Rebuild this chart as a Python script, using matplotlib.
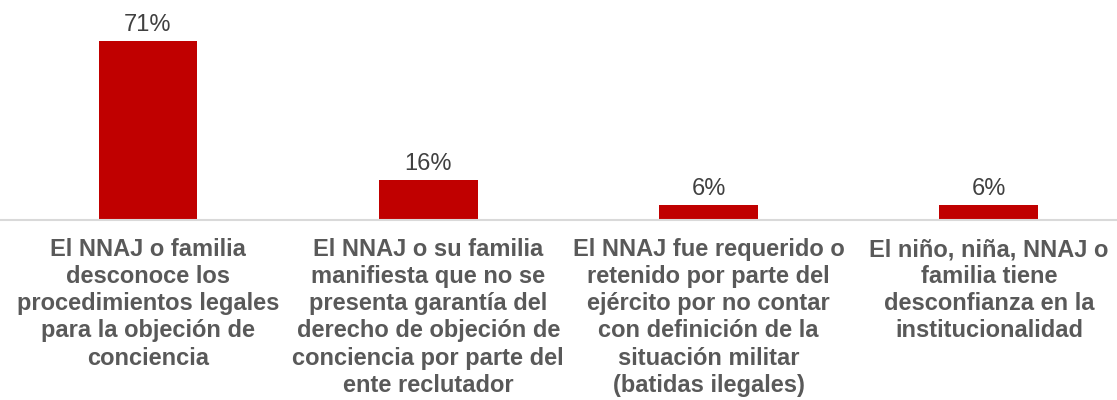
import matplotlib
matplotlib.use("Agg")
import matplotlib.pyplot as plt

plt.rcParams['font.family'] = ['Liberation Sans', 'DejaVu Sans']

categories = [
    "El NNAJ o familia\ndesconoce los\nprocedimientos legales\npara la objeción de\nconciencia",
    "El NNAJ o su familia\nmanifiesta que no se\npresenta garantía del\nderecho de objeción de\nconciencia por parte del\nente reclutador",
    "El NNAJ fue requerido o\nretenido por parte del\nejército por no contar\ncon definición de la\nsituación militar\n(batidas ilegales)",
    "El niño, niña, NNAJ o\nfamilia tiene\ndesconfianza en la\ninstitucionalidad",
]
values = [71, 16, 6, 6]
value_labels = ["71%", "16%", "6%", "6%"]

fig = plt.figure(figsize=(11.17, 4.0), dpi=100)
ax = fig.add_axes([0, 0.45, 1, 0.55])

x = list(range(len(values)))
bars = ax.bar(x, values, width=0.353, color="#C00000")
ax.bar_label(bars, labels=value_labels, padding=3.5, fontsize=17, color="#404040")

ax.set_xlim(-0.528, 3.457)
ax.set_ylim(0, 87.3)

for side in ["top", "right", "left"]:
    ax.spines[side].set_visible(False)
ax.spines["bottom"].set_color("#D9D9D9")
ax.spines["bottom"].set_linewidth(1.5)

ax.set_yticks([])
ax.set_xticks(x)
ax.set_xticklabels(categories, fontsize=17, fontweight="bold", color="#595959", linespacing=1.23)
ax.tick_params(axis="x", length=0, pad=13)

fig.savefig("out.png", dpi=100)
